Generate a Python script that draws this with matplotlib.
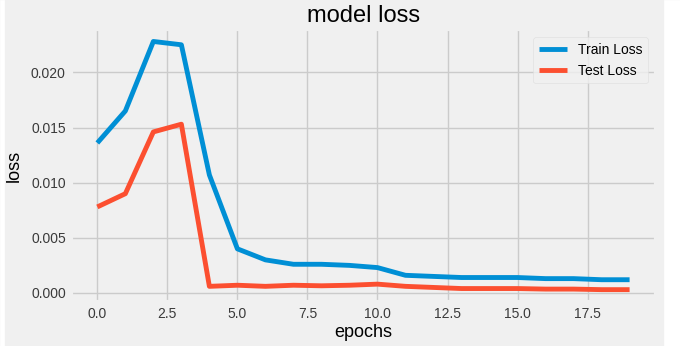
import matplotlib
matplotlib.use('Agg')
import matplotlib.pyplot as plt
from matplotlib.patches import Rectangle

epochs = list(range(20))
train_loss = [0.0136, 0.0165, 0.0228, 0.0225, 0.0107, 0.0040, 0.0030, 0.0026, 0.0026, 0.0025,
              0.0023, 0.0016, 0.0015, 0.0014, 0.0014, 0.0014, 0.0013, 0.0013, 0.0012, 0.0012]
test_loss = [0.0078, 0.0090, 0.0146, 0.0153, 0.0006, 0.0007, 0.0006, 0.0007, 0.00065, 0.0007,
             0.0008, 0.0006, 0.0005, 0.0004, 0.0004, 0.0004, 0.00035, 0.00035, 0.0003, 0.0003]

plt.style.use('fivethirtyeight')
plt.rcParams['font.family'] = ['Liberation Sans', 'DejaVu Sans']

fig = plt.figure(figsize=(6.8, 3.46), dpi=100)
fig.patch.set_facecolor('#f0f0f0')
# white strips at the edges of the original screenshot
fig.patches.append(Rectangle((0, 0), 4 / 680, 1, transform=fig.transFigure, color='white', zorder=-1))
fig.patches.append(Rectangle((664 / 680, 0), 16 / 680, 1, transform=fig.transFigure, color='white', zorder=-1))

ax = fig.add_axes([0.104, 0.127, 0.861, 0.789])
ax.plot(epochs, train_loss, color='#008fd5', linewidth=3.5, label='Train Loss')
ax.plot(epochs, test_loss, color='#fc4f30', linewidth=3.5, label='Test Loss')

ax.set_title('model loss', fontsize=17, pad=5)
ax.set_xlabel('epochs', fontsize=13, labelpad=2)
ax.set_ylabel('loss', fontsize=13, labelpad=6)
ax.tick_params(labelsize=10, colors='#3a3a3a')
ax.grid(color='#cbcbcb', linewidth=1)
ax.legend(loc='upper right', fontsize=10, frameon=True, facecolor='#f0f0f0', edgecolor='#dddddd',
          borderaxespad=0.6)

fig.savefig('out.png', dpi=100, facecolor=fig.get_facecolor())
